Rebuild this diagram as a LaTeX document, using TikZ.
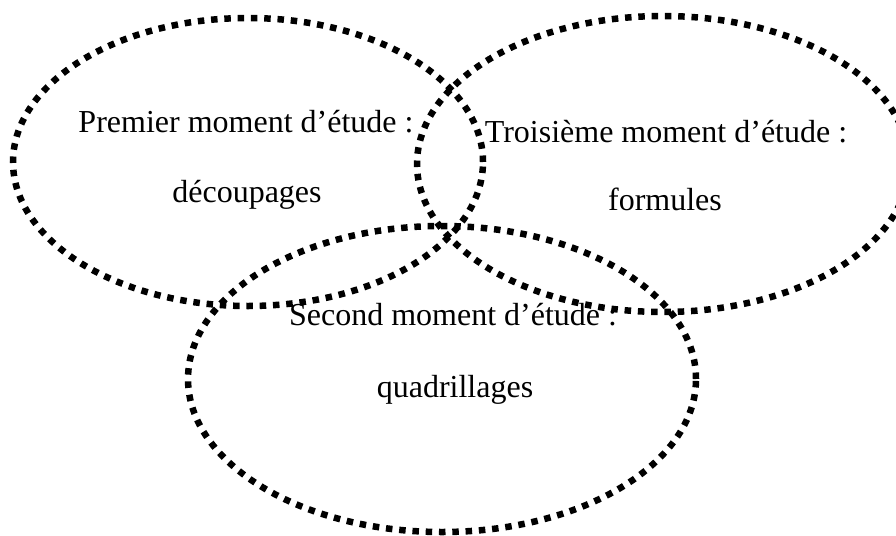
\documentclass[tikz,border=0pt]{standalone}
\usepackage{fontspec}
\setmainfont{Liberation Serif}
\usetikzlibrary{shapes.geometric}

\begin{document}
\begin{tikzpicture}[x=1pt, y=-1pt,
    bulle/.style={draw, ellipse, line width=6.5pt, dash pattern=on 6.5pt off 6.8pt, inner sep=0pt},
    lbl/.style={font=\fontsize{32}{38}\selectfont, anchor=base, inner sep=0pt}
]
\useasboundingbox (0,0) rectangle (896,535);

\node[bulle, minimum width=470pt, minimum height=288pt] (premier) at (248,162) {};
\node[bulle, minimum width=492pt, minimum height=296pt] (troisieme) at (663,164) {};
\node[bulle, minimum width=508pt, minimum height=306pt] (second) at (442,379) {};

\node[lbl] (premierA) at (246,132) {Premier moment d’étude :};
\node[lbl] (premierB) at (247,202) {découpages};
\node[lbl] (troisiemeA) at (666,142) {Troisième moment d’étude :};
\node[lbl] (troisiemeB) at (665,210) {formules};
\node[lbl] (secondA) at (453,325) {Second moment d’étude :};
\node[lbl] (secondB) at (455,397) {quadrillages};
\end{tikzpicture}
\end{document}
